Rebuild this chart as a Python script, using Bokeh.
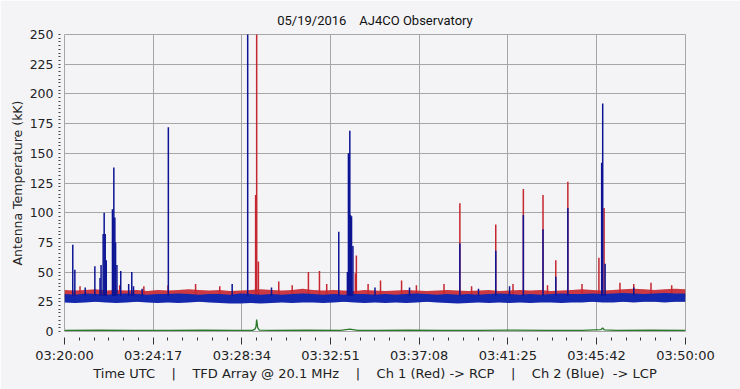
from bokeh.plotting import figure
from bokeh.models import FixedTicker, Range1d
from bokeh.embed import file_html
from bokeh.resources import INLINE

# ---------------- data ----------------
tick_secs = [0, 257, 514, 771, 1028, 1285, 1542, 1800]
tick_labels = ["03:20:00", "03:24:17", "03:28:34", "03:32:51",
               "03:37:08", "03:41:25", "03:45:42", "03:50:00"]
y_ticks = [0, 25, 50, 75, 100, 125, 150, 175, 200, 225, 250]

# baseline noise envelope (every 30 s)
band_t = list(range(0, 1801, 30))
red_hi = [35, 34.5, 35, 35.5, 34.5, 35, 34.5, 35, 34, 35,
          34.5, 35, 35.5, 35, 34.5, 35, 34, 34.5, 35, 35.5,
          35, 34.5, 35, 36, 35, 34.5, 35, 34.5, 34, 35,
          34.5, 34, 34.5, 35, 34.5, 34, 34.5, 35, 34.5, 34,
          34.5, 35, 34, 34.5, 35, 34.5, 35, 34, 34.5, 35,
          35.5, 35, 34.5, 35, 35.5, 36, 35.5, 35, 35.5, 36,
          35.5]
red_lo = [28, 28.5, 28, 27.5, 28, 28.5, 28, 28, 28.5, 28,
          28, 27.5, 28, 28.5, 28, 28, 27.5, 28, 27.5, 28,
          28.5, 28, 28, 28.5, 28, 28, 27.5, 28, 28.5, 28,
          28, 28.5, 28, 28, 27.5, 28, 28, 28.5, 28, 28,
          28.5, 28, 28, 27.5, 28, 28.5, 28, 28, 28.5, 28,
          28.5, 29, 28.5, 28.5, 29, 28.5, 29, 28.5, 29, 29,
          28.5]
blue_hi = [31.5, 31, 32, 31.5, 31, 31.5, 32, 31.5, 31, 31.5,
           31.5, 32, 31.5, 31, 31.5, 31.5, 31, 32, 31.5, 31,
           31.5, 31, 31.5, 32, 31.5, 31, 31.5, 31, 31.5, 31.5,
           31, 31.5, 31, 31.5, 32, 31.5, 31, 31.5, 31, 31.5,
           31, 31.5, 32, 31.5, 31, 31.5, 31, 31.5, 32, 31.5,
           31.5, 32, 31.5, 32, 32.5, 32, 31.5, 32, 32.5, 32,
           32]
blue_lo = [24.5, 24, 24.5, 25, 24.5, 24, 24.5, 25, 24.5, 24,
           24.5, 24, 24.5, 25, 24.5, 24, 23.5, 23.5, 24, 23.5,
           24, 24.5, 24, 24.5, 24.5, 24, 24.5, 25, 24.5, 24,
           24.5, 24, 24.5, 24, 24.5, 25, 24.5, 24, 23.5, 24,
           24.5, 24, 24.5, 24, 24.5, 24, 24.5, 24.5, 24, 24.5,
           24.5, 25, 24.5, 24.5, 25, 24.5, 25, 25, 24.5, 25,
           25]

# Ch 1 (red) spikes: time [s after 03:20:00], peak [kK]
red_spike_t = [45, 160, 230, 300, 380, 450, 554, 556, 557, 562,
               621, 660, 707, 739, 760, 843, 846, 880, 916, 977,
               1020, 1100, 1146, 1180, 1250, 1300, 1330, 1387, 1400, 1424,
               1459, 1500, 1549, 1564, 1610, 1650, 1700, 1760]
red_spike_v = [38, 39, 38, 39, 40, 38, 115, 115, 255, 59,
               42, 39, 50, 51, 40, 49, 64, 40, 43, 43,
               39, 40, 108, 38, 90, 40, 120, 115, 39, 60,
               126, 40, 62, 104, 41, 40, 41, 39]

# Ch 2 (blue) spikes
blue_spike_t = [24, 30, 60, 88, 103, 106, 112, 115, 118, 121,
                139, 141, 143, 146, 148, 152, 163, 186, 195, 200,
                225, 301, 486, 531, 600, 795, 820, 823, 825, 827,
                829, 832, 836, 900, 1000, 1146, 1200, 1250, 1290, 1330,
                1387, 1424, 1459, 1557, 1560, 1567, 1650]
blue_spike_v = [73, 52, 37, 55, 45, 56, 82, 100, 82, 60,
                103, 96, 138, 96, 75, 56, 51, 40, 50, 38,
                36, 172, 40, 255, 37, 84, 50, 150, 150, 169,
                98, 97, 72, 37, 37, 74, 36, 68, 38, 98,
                86, 46, 104, 142, 192, 57, 37]

# green trace
green_t = [0, 100, 200, 300, 400, 500, 545, 552, 555, 557, 560, 565, 600,
           700, 800, 827, 850, 900, 1000, 1100, 1200, 1300, 1400, 1500,
           1555, 1560, 1565, 1600, 1700, 1800]
green_v = [1, 1.2, 1, 1, 1.1, 1, 1, 2, 4, 10, 3, 1.2, 1,
           1.1, 1, 2, 1, 1, 1.1, 1, 1, 1.1, 1, 1,
           1.5, 3, 1.3, 1, 1.1, 1]

# ---------------- styling ----------------
BG = "#F4F4F7"
GRID = "#A6A6A6"
RED = "#C6262E"
BLUE_BAND = "#1428AE"
BLUE = "#0C1494"
GREEN = "#2A7A2A"
FONT = "DejaVu Sans"

p = figure(width=740, height=389, output_backend="svg", toolbar_location=None,
           x_range=Range1d(0, 1800), y_range=Range1d(0, 250),
           min_border_left=64, min_border_right=55, min_border_top=34,
           min_border_bottom=58, background_fill_color=BG, border_fill_color=BG)

p.title.text = "05/19/2016\u00a0\u00a0\u00a0\u00a0AJ4CO Observatory"
p.title.align = "center"
p.title.text_font = "Roboto"
p.title.text_font_size = "13px"
p.title.text_font_style = "normal"
p.title.text_color = "#111111"
p.title.standoff = 14

p.outline_line_color = GRID

# x axis
x_minor = []
for a, b in zip(tick_secs[:-1], tick_secs[1:]):
    for k in range(1, 6):
        x_minor.append(a + (b - a) * k / 6)
xt = FixedTicker(ticks=tick_secs, minor_ticks=x_minor)
xa = p.xaxis[0]
xa.ticker = xt
xa.major_label_overrides = {s: l for s, l in zip(tick_secs, tick_labels)}
xa.axis_line_color = None
xa.major_tick_in = -6
xa.major_tick_out = 13
xa.minor_tick_in = -6
xa.minor_tick_out = 9
xa.major_tick_line_color = "#333333"
xa.minor_tick_line_color = "#333333"
xa.major_label_standoff = 3
xa.major_label_text_font = FONT
xa.major_label_text_font_size = "13px"
xa.major_label_text_color = "#222222"
xa.axis_label = ("Time UTC\u00a0\u00a0\u00a0\u00a0|\u00a0\u00a0\u00a0\u00a0TFD Array @ 20.1 MHz"
                 "\u00a0\u00a0\u00a0\u00a0|\u00a0\u00a0\u00a0\u00a0Ch 1 (Red) -> RCP"
                 "\u00a0\u00a0\u00a0\u00a0|\u00a0\u00a0\u00a0\u00a0Ch 2 (Blue)\u00a0\u00a0-> LCP")
xa.axis_label_text_font = FONT
xa.axis_label_text_font_size = "13px"
xa.axis_label_text_font_style = "normal"
xa.axis_label_text_color = "#222222"
xa.axis_label_standoff = 0

# y axis
y_minor = []
for a, b in zip(y_ticks[:-1], y_ticks[1:]):
    for k in range(1, 8):
        y_minor.append(a + (b - a) * k / 8)
yt = FixedTicker(ticks=y_ticks, minor_ticks=y_minor)
ya = p.yaxis[0]
ya.ticker = yt
ya.axis_line_color = None
ya.major_tick_in = -4
ya.major_tick_out = 6
ya.minor_tick_in = -4
ya.minor_tick_out = 6
ya.major_tick_line_color = "#444444"
ya.minor_tick_line_color = "#444444"
ya.major_label_standoff = 5
ya.major_label_text_font = FONT
ya.major_label_text_font_size = "12.5px"
ya.major_label_text_color = "#222222"
ya.axis_label = "Antenna Temperature (kK)"
ya.axis_label_text_font = FONT
ya.axis_label_text_font_size = "12.5px"
ya.axis_label_text_font_style = "normal"
ya.axis_label_text_color = "#222222"
ya.axis_label_standoff = 2

p.xgrid.grid_line_color = GRID
p.ygrid.grid_line_color = GRID
p.xgrid.grid_line_width = 1
p.ygrid.grid_line_width = 1

# ---------------- data glyphs ----------------
p.line(green_t, green_v, line_color=GREEN, line_width=1.3)

p.varea(x=band_t, y1=red_lo, y2=red_hi, fill_color=RED, fill_alpha=0.9)
p.segment(x0=red_spike_t, y0=[30] * len(red_spike_t), x1=red_spike_t,
          y1=red_spike_v, line_color=RED, line_width=1.5)

p.varea(x=band_t, y1=blue_lo, y2=blue_hi, fill_color=BLUE_BAND, fill_alpha=1.0)
p.segment(x0=blue_spike_t, y0=[30] * len(blue_spike_t), x1=blue_spike_t,
          y1=blue_spike_v, line_color=BLUE, line_width=1.5)

open("out.html", "w").write(file_html(p, INLINE))
